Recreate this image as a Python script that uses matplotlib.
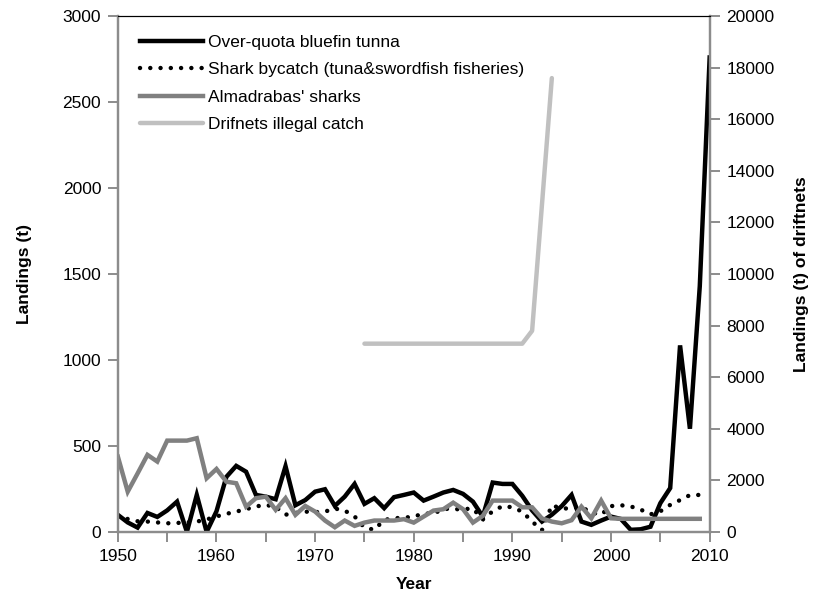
"""plot.py - landings of bluefin tuna, sharks and driftnet catch, 1950-2010."""

import matplotlib
matplotlib.use('Agg')
import matplotlib.pyplot as plt
from matplotlib.ticker import MultipleLocator

plt.rcParams['font.family'] = ['Liberation Sans', 'DejaVu Sans']

years = list(range(1950, 2011))

# Over-quota bluefin tunna (t), 1950-2010
bluefin = [99, 55, 25, 110, 87, 125, 176, 0, 215, 0,
           120, 320, 384, 350, 215, 205, 190, 382, 155, 185,
           234, 248, 151, 205, 279, 163, 196, 138, 202, 215,
           229, 182, 205, 229, 244, 221, 176, 89, 287, 279,
           279, 210, 125, 60, 100, 150, 215, 60, 41, 66,
           89, 75, 12, 15, 30, 167, 255, 1085, 600, 1430,
           2760]

# Shark bycatch (tuna & swordfish fisheries), 1950-2009
shark_bycatch = [95, 75, 62, 60, 55, 50, 52, 55, 60, 72,
                 90, 105, 118, 132, 148, 157, 145, 100, 110, 118,
                 115, 118, 136, 124, 90, 25, 12, 70, 79, 83,
                 88, 108, 105, 135, 132, 132, 136, 72, 120, 150,
                 143, 118, 60, 10, 155, 135, 138, 145, 112, 100,
                 150, 155, 148, 130, 102, 120, 157, 185, 214, 215]

# Almadrabas' sharks, 1950-2009
almadrabas = [438, 234, 340, 448, 409, 531, 531, 531, 545, 312,
              366, 292, 283, 147, 196, 205, 128, 196, 99, 151,
              118, 66, 27, 66, 35, 54, 66, 66, 66, 74,
              54, 89, 124, 132, 170, 132, 54, 93, 182, 182,
              182, 143, 143, 78, 60, 50, 68, 147, 79, 182,
              79, 76, 76, 76, 76, 76, 76, 76, 76, 76]

# Drifnets illegal catch (t), right axis
drift_years = list(range(1975, 1993)) + [1994]
drift_catch = [7300] * 17 + [7800, 17600]

W, H = 830, 601
fig, ax = plt.subplots(figsize=(W / 100, H / 100), dpi=100)
fig.subplots_adjust(left=0.142, right=0.855, top=0.973, bottom=0.115)
ax2 = ax.twinx()

l1, = ax.plot(years, bluefin, color='black', lw=3.2,
              solid_joinstyle='miter', label='Over-quota bluefin tunna')
l2, = ax.plot(years[:len(shark_bycatch)], shark_bycatch, color='black', lw=3.2,
              linestyle=(0, (0.01, 2.3)), dash_capstyle='round',
              label='Shark bycatch (tuna&swordfish fisheries)')
l3, = ax.plot(years[:len(almadrabas)], almadrabas, color='#808080', lw=3.2,
              solid_joinstyle='miter', label="Almadrabas' sharks")
l4, = ax2.plot(drift_years, drift_catch, color='#c0c0c0', lw=3.2,
               solid_capstyle='round', label='Drifnets illegal catch')

ax.set_xlim(1950, 2010)
ax.set_ylim(0, 3000)
ax2.set_ylim(0, 20000)
ax.xaxis.set_major_locator(MultipleLocator(10))
ax.xaxis.set_minor_locator(MultipleLocator(5))
ax.yaxis.set_major_locator(MultipleLocator(500))
ax2.yaxis.set_major_locator(MultipleLocator(2000))

gray = '#8c8c8c'
for a in (ax, ax2):
    for side in ('left', 'right', 'bottom'):
        a.spines[side].set_color(gray)
        a.spines[side].set_linewidth(1.6)
    a.spines['top'].set_color('black')
    a.spines['top'].set_linewidth(0.8)
ax.tick_params(axis='both', which='both', direction='out', color=gray,
               width=1.4, length=7, labelsize=12.5, pad=5)
ax2.tick_params(axis='y', direction='out', color=gray, width=1.4,
                length=7, labelsize=12.5, pad=5)

ax.set_xlabel('Year', fontsize=12.5, fontweight='bold', labelpad=10)
ax.set_ylabel('Landings (t)', fontsize=12.5, fontweight='bold', labelpad=22)
ax2.set_ylabel('Landings (t) of driftnets', fontsize=12.5, fontweight='bold',
               labelpad=14)

ax.legend(handles=[l1, l2, l3, l4], loc='upper left', frameon=False,
          fontsize=12.5, handlelength=3.6, handletextpad=0.3,
          labelspacing=0.7, borderpad=0, borderaxespad=0,
          bbox_to_anchor=(140 / W, 1 - 35 / H),
          bbox_transform=fig.transFigure)

fig.savefig('out.png', dpi=100)
